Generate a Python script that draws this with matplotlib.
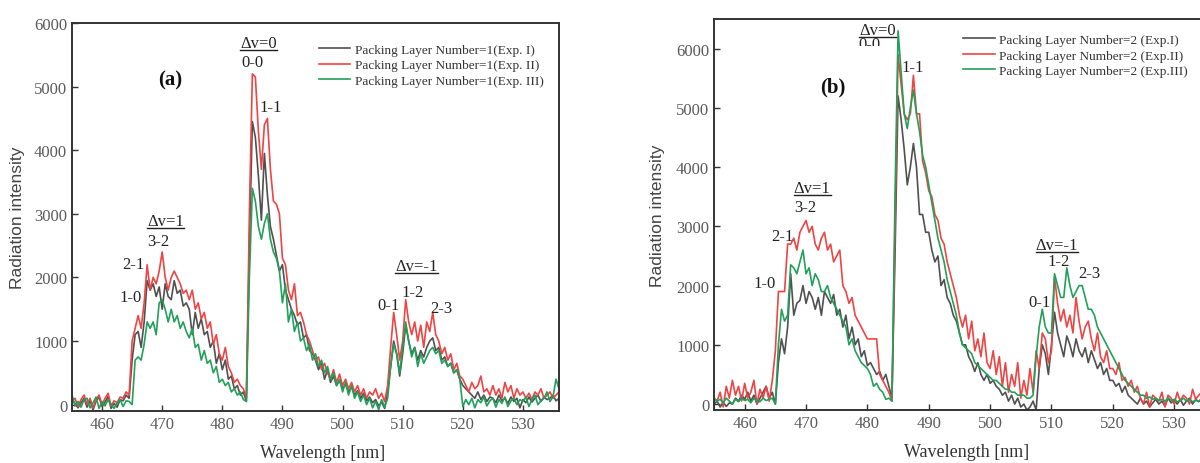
import numpy as np
import matplotlib
matplotlib.use("Agg")
import matplotlib.pyplot as plt
from matplotlib.lines import Line2D
from matplotlib.patches import Rectangle

plt.rcParams['font.family'] = ['Liberation Serif', 'DejaVu Serif']

# wavelength grid (nm), 0.5 nm sampling
wavelength = np.arange(455.0, 536.01, 0.5)

# ---------------- Panel (a): Packing Layer Number = 1 ----------------
a_exp1 = [
    80, 20, -50, 30, 100, -40, 60, -80, 50, 120,
    -30, 40, 130, -60, 20, -40, 80, 60, 150, 100,
    700, 1100, 1150, 900, 1300, 1950, 1800, 1900, 1700, 1850,
    1500, 1900, 1700, 1650, 1950, 1750, 1800, 1550, 1600, 1500,
    1100, 1450, 1200, 1350, 1100, 1150, 900, 1000, 650, 800,
    550, 700, 400, 450, 250, 300, 150, 200, 50, 2500,
    4450, 4200, 3600, 2900, 3950, 3300, 2800, 2600, 2350, 2100,
    2200, 1800, 1650, 1500, 1400, 1250, 1300, 1050, 1100, 850,
    800, 700, 550, 650, 400, 550, 350, 450, 300, 380,
    250, 320, 200, 280, 150, 220, 100, 180, 60, 120,
    30, 80, -20, 40, -60, 200, 600, 1000, 800, 450,
    800, 1250, 1000, 800, 900, 700, 850, 750, 900, 1000,
    1050, 850, 900, 700, 750, 600, 650, 500, 550, 400,
    300, 250, 200, 150, 100, 200, 80, 150, 50, 120,
    100, 30, 150, 60, 100, 20, 120, 50, 100, -50,
    80, 30, 120, 40, 100, 150, 50, 120, 80, 100,
    150, 60, 100]
a_exp2 = [
    50, 100, -30, 80, 150, 0, 100, -50, 80, 150,
    0, 100, 180, -20, 60, 30, 120, 100, 200, 150,
    1000, 1200, 1400, 1200, 1600, 2200, 1800, 2000, 1900, 2100,
    2400, 2000, 1800, 2000, 2100, 2000, 1900, 1750, 1800, 1650,
    1800, 1500, 1600, 1350, 1450, 1200, 1300, 950, 1100, 800,
    700, 900, 600, 500, 350, 400, 300, 250, 100, 3000,
    5200, 5150, 4300, 3700, 4400, 4500, 3700, 3200, 3150, 3000,
    2300, 2200, 1800, 1650, 1900, 1400, 1450, 1300, 1100, 1000,
    850, 700, 750, 550, 650, 500, 400, 550, 350, 480,
    300, 400, 250, 350, 200, 300, 150, 250, 100, 200,
    150, 250, 100, 180, 50, 300, 900, 1450, 1100, 700,
    1000, 1650, 1300, 1100, 1300, 1000, 1250, 900, 1300, 1150,
    1450, 1100, 1000, 800, 900, 700, 800, 550, 650, 450,
    400, 300, 200, 350, 250, 300, 450, 200, 250, 150,
    300, 150, 250, 100, 350, 200, 300, 100, 250, 150,
    200, 100, 180, 80, 200, 150, 250, 100, 150, 200,
    100, 150, 200]
a_exp3 = [
    150, -20, 50, -40, 80, 100, -50, 30, 120, -60,
    50, -20, 80, 0, -60, 30, 80, -30, 60, 50,
    0, 700, 750, 700, 950, 1300, 1200, 1300, 1100, 1600,
    1650, 1500, 1300, 1500, 1300, 1400, 1200, 1300, 1150, 1050,
    1200, 900, 950, 700, 850, 650, 700, 500, 600, 350,
    400, 300, 350, 200, 250, 150, 200, 80, 50, 2000,
    3400, 3200, 2800, 2600, 2850, 3000, 2600, 2400, 2300, 2100,
    1600, 1900, 1300, 1500, 1150, 1300, 1000, 1050, 850, 950,
    700, 800, 600, 700, 500, 600, 400, 500, 300, 400,
    200, 350, 150, 300, 100, 200, 50, 150, 0, 100,
    -50, 50, -80, 80, -40, 100, 600, 950, 800, 500,
    900, 1300, 1000, 750, 900, 600, 800, 650, 750, 850,
    900, 800, 850, 650, 700, 600, 650, 500, 550, 400,
    -30, 80, 0, 100, -50, 80, 30, 120, -20, 60,
    100, -40, 80, 20, 120, -30, 60, 100, 0, 80,
    50, 120, -30, 80, 150, 0, 60, 100, 200, 50,
    120, 400, 250]

# ---------------- Panel (b): Packing Layer Number = 2 ----------------
b_exp1 = [
    0, 50, -50, 30, -40, 20, 0, 100, 50, 150,
    80, 200, 50, 150, 0, 100, 200, 300, 100, 200,
    0, 700, 1100, 850, 1300, 2200, 1500, 1700, 1750, 2000,
    1700, 1900, 1800, 1600, 1800, 1500, 1900, 1800, 1700, 1850,
    1500, 1600, 1300, 1500, 1100, 1300, 1000, 1100, 800, 900,
    650, 700, 600, 500, 550, 400, 500, 300, 100, 2500,
    5200, 4800, 4300, 3700, 4000, 4400, 4000, 3200, 3200, 2900,
    2900, 2600, 2400, 2500, 2000, 2100, 1800, 1700, 1500, 1400,
    1200, 1000, 1000, 800, 700, 550, 700, 500, 400, 500,
    350, 400, 300, 250, 150, 200, 50, 150, 0, 100,
    -50, 0, -100, -50, 50, -100, 600, 1000, 850, 500,
    1000, 1550, 1200, 1000, 800, 1150, 1000, 800, 1100, 900,
    800, 950, 700, 900, 750, 600, 700, 500, 600, 400,
    400, 300, 350, 200, 300, 150, 100, 50, 0, 100,
    0, 50, -50, 20, 80, 0, 50, -30, 100, 20,
    60, 0, 80, -20, 50, 100, 0, 80, 40, 100,
    50, 100, 80]
b_exp2 = [
    100, 50, 200, -50, 300, 100, 400, 150, 300, 50,
    350, 100, 200, 400, 0, 250, 100, 300, 50, 400,
    900, 1900, 1900, 1900, 2700, 2700, 2800, 2600, 2900, 3000,
    3100, 2900, 3000, 2700, 2600, 2800, 2900, 2600, 2700, 2400,
    2500, 2600, 2000, 1900, 1700, 1800, 1500, 1400, 1300, 1200,
    1100, 1100, 1100, 1100, 500, 400, 300, 200, 50, 3000,
    5900, 5400, 4900, 4800, 4900, 5550, 4900, 4900, 4100, 3900,
    3600, 3500, 3200, 3100, 2800, 2700, 2400, 2200, 2000, 1800,
    1500, 1300, 1500, 1100, 1400, 900, 1100, 800, 1200, 700,
    600, 900, 500, 800, 300, 700, 200, 500, 300, 700,
    100, 400, 150, 600, 200, 900, 600, 1200, 1100, 700,
    900, 2150, 1700, 1400, 1600, 1300, 1500, 1200, 1800, 1400,
    1100, 1300, 1400, 1100, 900, 1200, 800, 700, 900, 600,
    600, 500, 700, 400, 450, 300, 400, 200, 300, 100,
    0, 200, -50, 150, 100, 50, 200, -50, 150, 100,
    0, 200, 50, 150, 100, 0, 250, 80, 150, 200,
    100, 200, 150]
b_exp3 = [
    100, 50, 80, 20, 100, 50, 0, 80, 40, 100,
    60, 80, 20, 100, 50, 40, 100, 60, 80, 100,
    0, 1000, 1600, 1400, 1500, 2350, 2300, 2200, 2400, 2600,
    2200, 2300, 2000, 2200, 2100, 1900, 1900, 2000, 1800, 1700,
    1600, 1500, 1400, 1300, 1000, 1100, 900, 800, 700, 650,
    600, 500, 300, 350, 250, 200, 80, 100, 50, 3500,
    6300, 5600, 4900, 4650, 5000, 5300, 4900, 4600, 4200, 4000,
    3700, 3400, 3100, 2800, 2600, 2400, 2100, 1900, 1700, 1500,
    1200, 1000, 950, 900, 850, 700, 650, 600, 550, 500,
    450, 400, 400, 350, 300, 250, 250, 200, 200, 150,
    150, 150, 100, 100, 150, 800, 1300, 1600, 1300, 1200,
    1200, 2200, 2000, 1800, 1800, 2300, 2000, 1800, 1900, 2000,
    2000, 1800, 1600, 1600, 1500, 1300, 1200, 1100, 1000, 900,
    800, 700, 600, 500, 400, 350, 300, 250, 200, 150,
    150, 100, 120, 80, 100, 60, 80, 50, 100, 60,
    80, 40, 60, 100, 50, 80, 40, 60, 50, 80,
    50, 60, 80]

labels_a = ["Packing Layer Number=1(Exp. I)",
            "Packing Layer Number=1(Exp. II)",
            "Packing Layer Number=1(Exp. III)"]
labels_b = ["Packing Layer Number=2 (Exp.I)",
            "Packing Layer Number=2 (Exp.II)",
            "Packing Layer Number=2 (Exp.III)"]

x_ticks = [460, 470, 480, 490, 500, 510, 520, 530]
y_ticks_a = [0, 1000, 2000, 3000, 4000, 5000, 6000]
y_ticks_b = [0, 1000, 2000, 3000, 4000, 5000, 6000]

# (text, x, y, underlined)
notes_a = [("Δv=0", 486.0, 5690, True), ("0-0", 485.0, 5390, False),
           ("1-1", 488.0, 4680, False), ("Δv=1", 470.6, 2890, True),
           ("3-2", 469.3, 2570, False), ("2-1", 465.2, 2210, False),
           ("1-0", 464.8, 1690, False), ("Δv=-1", 512.3, 2180, True),
           ("0-1", 507.6, 1560, False), ("1-2", 511.7, 1770, False),
           ("2-3", 516.5, 1520, False)]
notes_b = [("Δv=0", 481.6, 6320, True), ("0-0", 480.4, 6080, False),
           ("1-1", 487.4, 5690, False), ("Δv=1", 471.0, 3650, True),
           ("3-2", 469.8, 3330, False), ("2-1", 466.1, 2830, False),
           ("1-0", 463.3, 2040, False), ("Δv=-1", 510.9, 2690, True),
           ("1-2", 511.2, 2420, False), ("2-3", 516.2, 2210, False),
           ("0-1", 508.1, 1720, False)]

colors = ["#505050", "#ee4444", "#22a05a"]

fig = plt.figure(figsize=(12, 4.64), dpi=100)
ax_a = fig.add_axes([72 / 1200, 52 / 464, 487 / 1200, 388 / 464])
ax_b = fig.add_axes([714 / 1200, 53 / 464, 497 / 1200, 391 / 464])

underlined = []


def style_axes(ax, ylim, yticks):
    ax.set_xlim(455, 536)
    ax.set_ylim(*ylim)
    ax.set_xticks(x_ticks)
    ax.set_yticks(yticks)
    ax.tick_params(direction='in', length=4, width=1.0, colors='#333333',
                   labelcolor='#5a5a5a', labelsize=12)
    for s in ax.spines.values():
        s.set_linewidth(1.4)
        s.set_color('#333333')
    ax.set_xlabel("Wavelength [nm]", fontsize=13, color='#333333')
    ax.set_ylabel("Radiation intensity", fontsize=12.5, color='#444444',
                  family=['Liberation Sans', 'DejaVu Sans'])


def draw_panel(ax, series, labels, notes, ylim, yticks, leg_anchor):
    for ys, c, lab in zip(series, colors, labels):
        ax.plot(wavelength, ys, color=c, lw=1.2, label=lab)
    style_axes(ax, ylim, yticks)
    for txt, x, y, ul in notes:
        t = ax.text(x, y, txt, ha='center', va='center', fontsize=12,
                    color='#222222', zorder=5)
        if ul:
            underlined.append((ax, t))
    leg = ax.legend(loc='upper left', bbox_to_anchor=leg_anchor,
                    bbox_transform=ax.transData, frameon=False,
                    fontsize=9.5, handlelength=2.4, handletextpad=0.35,
                    labelspacing=0.25, borderpad=0, borderaxespad=0)
    for t in leg.get_texts():
        t.set_color('#333333')
    return leg


draw_panel(ax_a, [a_exp1, a_exp2, a_exp3], labels_a, notes_a,
           (-100, 6000), y_ticks_a, (496.0, 5680))
ax_a.text(471.4, 5110, "(a)", ha='center', va='center', fontsize=15,
          fontweight='bold', color='#111111')
ax_a.xaxis.set_label_coords(0.514, -0.085)
ax_a.yaxis.set_label_coords(-0.0965, 0.5)

draw_panel(ax_b, [b_exp1, b_exp2, b_exp3], labels_b, notes_b,
           (-100, 6500), y_ticks_b, (495.6, 6250))
# white box behind "(b)" that hides the lower part of the "0-0" label
ax_b.add_patch(Rectangle((460.8, 4740), 21.1, 1300, facecolor='white',
                         edgecolor='none', zorder=6))
ax_b.text(474.3, 5360, "(b)", ha='center', va='center', fontsize=15,
          fontweight='bold', color='#111111', zorder=7)
ax_b.xaxis.set_label_coords((496.2 - 455) / 81, -0.085)
ax_b.yaxis.set_label_coords(-0.0986, 0.5)

# underline the Δv labels
fig.canvas.draw()
renderer = fig.canvas.get_renderer()
inv = fig.transFigure.inverted()
for ax, t in underlined:
    bb = t.get_window_extent(renderer)
    (x0, y0) = inv.transform((bb.x0, bb.y0 + 1))
    (x1, _) = inv.transform((bb.x1, bb.y0 + 1))
    fig.add_artist(Line2D([x0, x1], [y0, y0], transform=fig.transFigure,
                          color='#222222', lw=1.0))

fig.savefig("out.png", dpi=100)
